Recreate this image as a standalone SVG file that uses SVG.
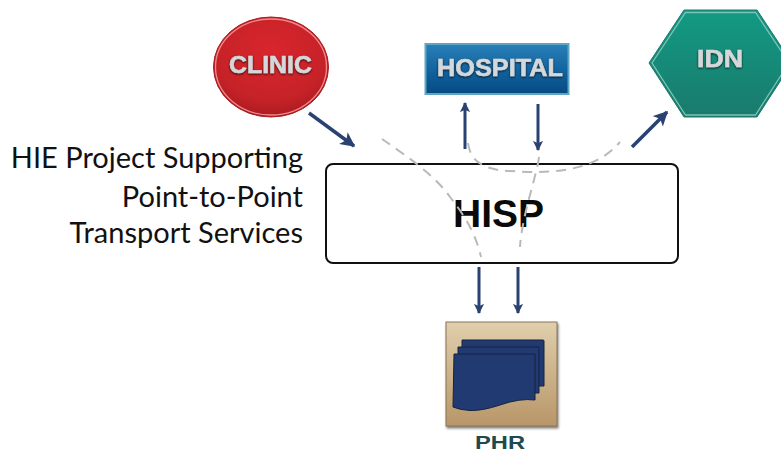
<svg xmlns="http://www.w3.org/2000/svg" width="781" height="453" viewBox="0 0 781 453">
<style>
.arrow{stroke:#2a4272;fill:none}
.dash{stroke:#b9b9b9;stroke-width:2;fill:none;stroke-dasharray:10 7}
.lbl{font-family:"Liberation Sans",Arial,sans-serif;font-weight:700}
.cap{font-family:Lato,"Open Sans",sans-serif;font-size:29px;fill:#111;text-anchor:end}
.ntext{fill:#d5d8da;text-anchor:middle;filter:url(#ts);stroke:#d5d8da;stroke-width:0.500}
.page{fill:#213a72;stroke:#15233f;stroke-width:1}
</style>
<defs>
<radialGradient id="red" cx="0.5" cy="0.35" r="0.7"><stop offset="0" stop-color="#d9262c"/><stop offset="0.7" stop-color="#c52228"/><stop offset="1" stop-color="#a3191e"/></radialGradient>
<linearGradient id="blue" x1="0" y1="0" x2="0" y2="1"><stop offset="0" stop-color="#2a80b8"/><stop offset="0.6" stop-color="#0f5f9c"/><stop offset="1" stop-color="#074a80"/></linearGradient>
<linearGradient id="teal" x1="0" y1="0" x2="0" y2="1"><stop offset="0" stop-color="#129a84"/><stop offset="1" stop-color="#1a7a6c"/></linearGradient>
<linearGradient id="tan" x1="0" y1="0" x2="0" y2="1"><stop offset="0" stop-color="#e0cfac"/><stop offset="1" stop-color="#b89668"/></linearGradient>
<filter id="ts" x="-20%" y="-30%" width="140%" height="160%"><feDropShadow dx="0" dy="1" stdDeviation="1" flood-color="#111" flood-opacity="0.85"/></filter>
<filter id="bs" x="-10%" y="-10%" width="125%" height="125%"><feDropShadow dx="1" dy="2" stdDeviation="1.200" flood-color="#444" flood-opacity="0.7"/></filter>
<marker id="ah" viewBox="0 0 10 10" refX="9" refY="5" markerWidth="4.200" markerHeight="4.200" orient="auto" markerUnits="strokeWidth"><path d="M0 0L10 5L0 10L2.500 5Z" fill="#2a4272"/></marker>
<marker id="ahs" viewBox="0 0 10 10" refX="9" refY="5" markerWidth="3.400" markerHeight="3.400" orient="auto" markerUnits="strokeWidth"><path d="M0 0L10 5L0 10L2.500 5Z" fill="#2a4272"/></marker>
</defs>

<g id="node-clinic">
<ellipse cx="271" cy="67" rx="57.500" ry="50" fill="url(#red)" stroke="#a81c20" stroke-width="1"/>
<ellipse cx="271" cy="67" rx="55.500" ry="48" fill="none" stroke="#f08a8c" stroke-width="1.300"/>
<text class="lbl ntext" x="270.500" y="72.500" font-size="24" textLength="83" lengthAdjust="spacingAndGlyphs">CLINIC</text>
</g>

<g id="node-hospital">
<rect x="425.500" y="44" width="143" height="50" fill="url(#blue)" stroke="#5fa5c4" stroke-width="2"/>
<text class="lbl ntext" x="500" y="76" font-size="24" textLength="126" lengthAdjust="spacingAndGlyphs">HOSPITAL</text>
</g>

<g id="node-idn">
<polygon points="649,63 684,10 757,10 792,63 757,117 684,117" fill="url(#teal)" stroke="#1a7a6c" stroke-width="1"/>
<polygon points="652,63 685.500,12.500 755.500,12.500 789,63 755.500,115 685.500,115" fill="none" stroke="#7cc4b6" stroke-width="1.300"/>
<text class="lbl ntext" x="720" y="67" font-size="24" textLength="46" lengthAdjust="spacingAndGlyphs">IDN</text>
</g>

<g id="node-hisp">
<rect x="326" y="164" width="352" height="99" rx="7" fill="#fff" stroke="#111" stroke-width="2"/>
<text class="lbl" x="498.500" y="227" font-size="38" fill="#0a0a0a" text-anchor="middle" textLength="91" lengthAdjust="spacingAndGlyphs">HISP</text>
</g>

<g id="node-phr">
<rect x="446" y="322" width="111" height="104" fill="url(#tan)" stroke="#8a7656" stroke-width="1" filter="url(#bs)"/>
<path class="page" d="M462 340H543Q544 340 544 341V386H462Z"/>
<path class="page" d="M458 347H539V393H458Z"/>
<path class="page" d="M454 354H535V400Q520 398 500 405Q482 411 470 410.500Q460 410 453 407Z"/>
<text class="lbl" x="500" y="449" font-size="19" fill="#1c4a50" text-anchor="middle" textLength="50" lengthAdjust="spacingAndGlyphs">PHR</text>
</g>

<g id="caption">
<text class="cap" x="303" y="168">HIE Project Supporting</text>
<text class="cap" x="303" y="207">Point-to-Point</text>
<text class="cap" x="303" y="243">Transport Services</text>
</g>

<g id="connectors">
<path class="dash" d="M382 139C405 155 435 175 450 197C470 222 477 240 481 257"/>
<path class="dash" d="M468 143C470 160 482 170 510 171C550 174 595 172 620 142"/>
<path class="dash" d="M539 157C537 175 522 215 520 247"/>
<line class="arrow" x1="309" y1="113" x2="354" y2="146" stroke-width="3.500" marker-end="url(#ah)"/>
<line class="arrow" x1="465" y1="149" x2="465" y2="103" stroke-width="3" marker-end="url(#ahs)"/>
<line class="arrow" x1="538" y1="104" x2="538" y2="150" stroke-width="3" marker-end="url(#ahs)"/>
<line class="arrow" x1="632" y1="147" x2="667" y2="112" stroke-width="3.500" marker-end="url(#ah)"/>
<line class="arrow" x1="479" y1="267" x2="479" y2="313" stroke-width="3" marker-end="url(#ahs)"/>
<line class="arrow" x1="518" y1="267" x2="518" y2="313" stroke-width="3" marker-end="url(#ahs)"/>
</g>
</svg>
